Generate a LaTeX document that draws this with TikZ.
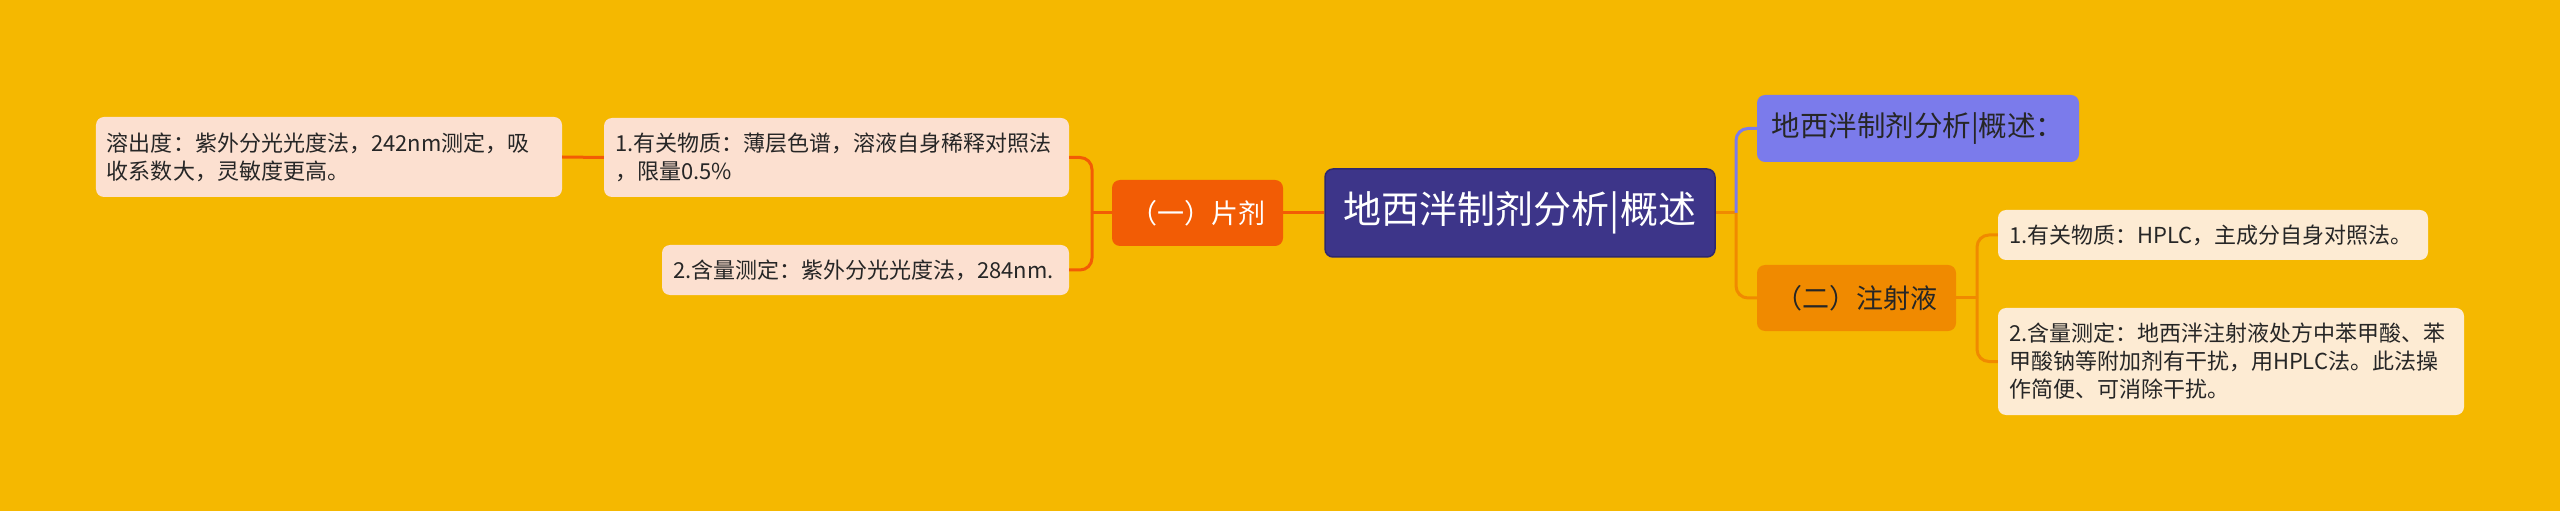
\documentclass[tikz,border=0pt]{standalone}
\usepackage{fontspec}
\setmainfont{Noto Sans CJK SC}
\definecolor{bg}{HTML}{F5B800}
\definecolor{cen}{HTML}{3D3589}
\definecolor{cenb}{HTML}{2E286E}
\definecolor{redor}{HTML}{F25C05}
\definecolor{pur}{HTML}{7B7BEB}
\definecolor{orn}{HTML}{F08A00}
\definecolor{lleaf}{HTML}{FCE0D0}
\definecolor{rleaf}{HTML}{FDEBD3}
\definecolor{txt}{HTML}{262626}
\tikzset{
  box/.style={rounded corners=8bp, inner sep=0pt, anchor=center},
  leaf/.style={box, inner xsep=11bp, align=left, font=\fontsize{22bp}{28bp}\selectfont, text=txt},
  lvl/.style={box, font=\fontsize{27bp}{32bp}\selectfont},
  conn/.style={line width=3bp},
  elbow/.style={conn, rounded corners=12bp}
}
\begin{document}
\begin{tikzpicture}[x=1bp,y=-1bp]
\fill[bg] (0,0) rectangle (2560,511);
\useasboundingbox (0,0) rectangle (2560,511);
% central
\node[box, fill=cen, draw=cenb, line width=1.5bp, text=white, minimum width=390bp, minimum height=88bp, font=\fontsize{38bp}{44bp}\selectfont] (c) at (1520,213) {地西泮制剂分析|概述};
% left branch
\node[lvl, fill=redor, text=white, minimum width=171bp, minimum height=66bp] (p1) at (1197.5,213) {（一）片剂};
\node[leaf, fill=lleaf, text width=443bp, minimum height=79bp] (l1) at (836.5,157.5) {1.有关物质：薄层色谱，溶液自身稀释对照法\\，限量0.5\%};
\node[leaf, fill=lleaf, text width=385bp, minimum height=50bp] (l2) at (865.5,270) {2.含量测定：紫外分光光度法，284nm.};
\node[leaf, fill=lleaf, text width=444bp, minimum height=80bp] (l11) at (329,157) {溶出度：紫外分光光度法，242nm测定，吸\\收系数大，灵敏度更高。};
% right branch
\node[lvl, fill=pur, text=txt, minimum width=322bp, minimum height=67bp, font=\fontsize{28.5bp}{32bp}\selectfont] (r0) at (1918,128.5) {地西泮制剂分析|概述：};
\node[lvl, fill=orn, text=txt, minimum width=199bp, minimum height=66bp] (r1) at (1856.5,298) {（二）注射液};
\node[leaf, fill=rleaf, text width=408bp, minimum height=50bp] (r11) at (2213,235) {1.有关物质：HPLC，主成分自身对照法。};
\node[leaf, fill=rleaf, text width=444bp, minimum height=107bp] (r12) at (2231,361.5) {2.含量测定：地西泮注射液处方中苯甲酸、苯\\甲酸钠等附加剂有干扰，用HPLC法。此法操\\作简便、可消除干扰。};
% junctions
\coordinate (jl) at (1092,213);
\coordinate (jr) at (1736,213);
\coordinate (jr1) at (1977,298);
% connectors
\draw[conn, draw=redor] (c.west) -- (p1.east);
\draw[conn, draw=redor] (p1.west) -- (jl);
\draw[elbow, draw=redor] (jl) |- (l1.east);
\draw[elbow, draw=redor] (jl) |- (l2.east);
\draw[conn, draw=redor] (l1.west) -- (l11.east);
\draw[conn, draw=orn] (c.east) -- (jr);
\draw[elbow, draw=pur] (jr) |- (r0.west);
\draw[elbow, draw=orn] (jr) |- (r1.west);
\draw[conn, draw=orn] (r1.east) -- (jr1);
\draw[elbow, draw=orn] (jr1) |- (r11.west);
\draw[elbow, draw=orn] (jr1) |- (r12.west);
\end{tikzpicture}
\end{document}
